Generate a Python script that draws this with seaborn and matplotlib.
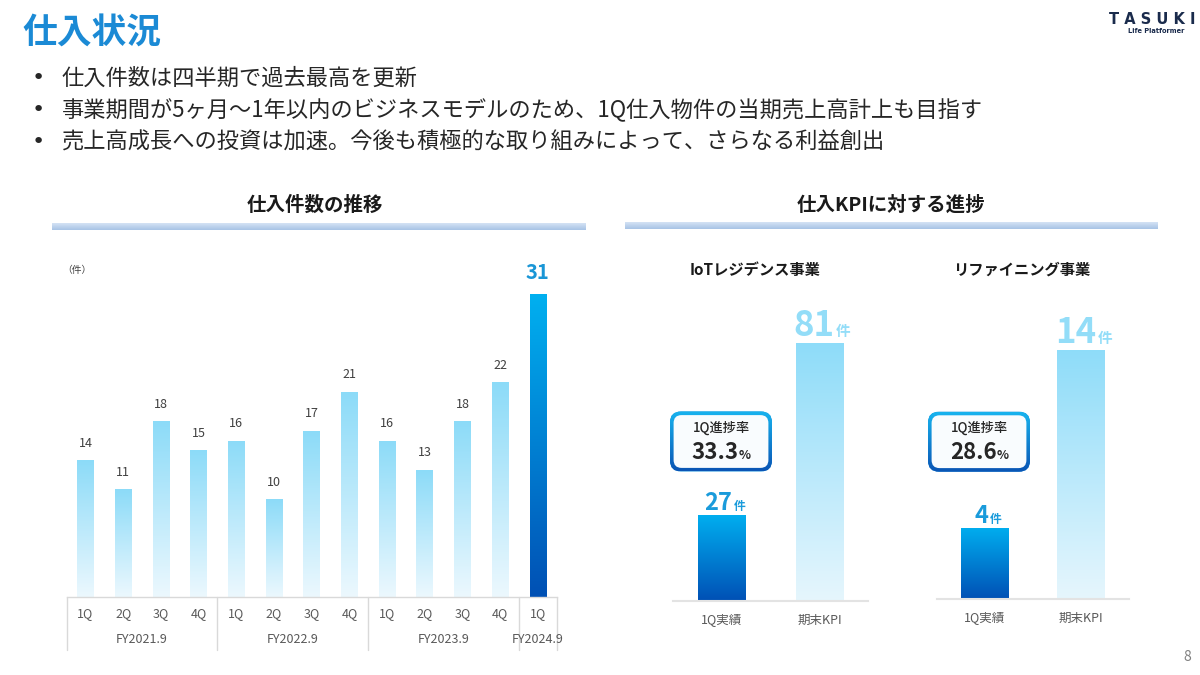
import numpy as np
import pandas as pd
import matplotlib
matplotlib.use("Agg")
import matplotlib.pyplot as plt
import seaborn as sns
from matplotlib.colors import LinearSegmentedColormap
from matplotlib.patches import FancyBboxPatch
from matplotlib.offsetbox import TextArea, HPacker, AnnotationBbox
from matplotlib.transforms import blended_transform_factory

# ---------------- data ----------------
quarters = ["1Q", "2Q", "3Q", "4Q", "1Q", "2Q", "3Q", "4Q", "1Q", "2Q", "3Q", "4Q", "1Q"]
fiscal_years = ["FY2021.9"] * 4 + ["FY2022.9"] * 4 + ["FY2023.9"] * 4 + ["FY2024.9"]
counts = [14, 11, 18, 15, 16, 10, 17, 21, 16, 13, 18, 22, 31]

kpi_categories = ["1Q実績", "期末KPI"]
iot_values = [27, 81]
refining_values = [4, 14]
progress_rates = [33.3, 28.6]
business_titles = ["IoTレジデンス事業", "リファイニング事業"]

page_title = "仕入状況"
bullets = [
    "仕入件数は四半期で過去最高を更新",
    "事業期間が5ヶ月〜1年以内のビジネスモデルのため、1Q仕入物件の当期売上高計上も目指す",
    "売上高成長への投資は加速。今後も積極的な取り組みによって、さらなる利益創出",
]
left_header = "仕入件数の推移"
right_header = "仕入KPIに対する進捗"

# ---------------- style ----------------
sns.set_theme(style="white")
plt.rcParams["font.family"] = ["Noto Sans CJK JP", "DejaVu Sans"]

W, H = 1200, 675
PT = 0.72  # pixels -> points at dpi 100
fig = plt.figure(figsize=(12, 6.75), dpi=100)
fig.patch.set_facecolor("white")

LIGHT_TOP, LIGHT_BOT = "#8CDBF8", "#ECF8FE"
DARK_TOP, DARK_BOT = "#00B0F0", "#0050B4"
TEXT = "#262626"
GRID = "#D9D9D9"


def px_axes(x0, y_top, x1, y_bot):
    return fig.add_axes([x0 / W, 1 - y_bot / H, (x1 - x0) / W, (y_bot - y_top) / H])


def gradient_patch(ax, patch, top, bottom, zorder=None):
    x, y = patch.get_x(), patch.get_y()
    w, h = patch.get_width(), patch.get_height()
    cmap = LinearSegmentedColormap.from_list("g", [bottom, top])
    grad = np.linspace(0, 1, 256).reshape(-1, 1)
    im = ax.imshow(grad, extent=[x, x + w, y, y + h], origin="lower", aspect="auto",
                   cmap=cmap, zorder=(patch.get_zorder() + 0.1) if zorder is None else zorder)
    im.set_clip_path(patch)
    patch.set_edgecolor("none")
    return im


# ---------------- left chart ----------------
ax = px_axes(66.7, 274.8, 556.7, 596.7)
df = pd.DataFrame({"period": [f"{fy} {q}" for fy, q in zip(fiscal_years, quarters)],
                   "count": counts})
sns.barplot(data=df, x="period", y="count", color=LIGHT_TOP, saturation=1,
            width=0.44, ax=ax, errorbar=None)
bars = list(ax.containers[0])
n = len(counts)
for i, p in enumerate(bars):
    if i == n - 1:
        gradient_patch(ax, p, DARK_TOP, DARK_BOT)
    else:
        gradient_patch(ax, p, LIGHT_TOP, LIGHT_BOT)
ax.set_xlim(-0.5, n - 0.5)
ax.set_ylim(0, 33)
ax.set_facecolor("none")
ax.set_xlabel("")
ax.set_ylabel("")
ax.set_yticks([])
for s in ["top", "right", "left"]:
    ax.spines[s].set_visible(False)
ax.spines["bottom"].set_color(GRID)
ax.spines["bottom"].set_linewidth(1)
ax.set_xticks(range(n))
ax.set_xticklabels(quarters, fontsize=9, color="#595959")
ax.tick_params(axis="x", length=0, pad=17.3 * PT)
for lab in ax.get_xticklabels():
    lab.set_va("center")

for i, (p, v) in enumerate(zip(bars, counts)):
    cx = p.get_x() + p.get_width() / 2
    if i == n - 1:
        ax.annotate(str(v), xy=(cx, v), xytext=(0, 22 * PT), textcoords="offset points",
                    ha="center", va="center", fontsize=14.5, fontweight="bold", color="#1A96D6",
                    annotation_clip=False)
    else:
        ax.annotate(str(v), xy=(cx, v), xytext=(0, 17 * PT), textcoords="offset points",
                    ha="center", va="center", fontsize=9, color="#404040",
                    annotation_clip=False)

# category table below the axis
trans = blended_transform_factory(ax.transData, ax.transAxes)
axes_h_px = 596.7 - 274.8
depth = 53 / axes_h_px
bounds = [-0.5] + [i - 0.5 for i in range(1, n) if fiscal_years[i] != fiscal_years[i - 1]] + [n - 0.5]
for xb in bounds:
    ax.plot([xb, xb], [0, -depth], transform=trans, color=GRID, lw=1, clip_on=False)
seen = []
for fy in fiscal_years:
    if fy not in seen:
        seen.append(fy)
for fy in seen:
    idx = [i for i, f in enumerate(fiscal_years) if f == fy]
    ax.annotate(fy, xy=(np.mean(idx), 0), xytext=(0, -42.3 * PT), textcoords="offset points",
                ha="center", va="center", fontsize=9, color="#595959", annotation_clip=False)


# ---------------- KPI charts ----------------
def kpi_chart(x0, x1, baseline, ytop, ymax, values):
    a = px_axes(x0, ytop, x1, baseline)
    sns.barplot(x=kpi_categories, y=values, color=LIGHT_TOP, saturation=1, width=0.49,
                ax=a, errorbar=None)
    bs = list(a.containers[0])
    gradient_patch(a, bs[0], "#00AEEF", "#0050B5")
    gradient_patch(a, bs[1], "#8EDCF9", "#E6F6FD")
    a.set_xlim(-0.5, 1.5)
    a.set_ylim(0, ymax)
    a.set_facecolor("none")
    a.set_xlabel("")
    a.set_ylabel("")
    a.set_yticks([])
    for s in ["top", "right", "left"]:
        a.spines[s].set_visible(False)
    a.spines["bottom"].set_color("#E3E3E3")
    a.spines["bottom"].set_linewidth(1.5)
    a.set_xticks([0, 1])
    a.set_xticklabels(kpi_categories, fontsize=9, color="#595959")
    a.tick_params(axis="x", length=0, pad=19 * PT)
    for lab in a.get_xticklabels():
        lab.set_va("center")
    styles = [("#1A9BDB", 17, 8.5), ("#93DDF8", 25, 10.5)]
    for i, (p, v) in enumerate(zip(bs, values)):
        col, big, small = styles[i]
        pack = HPacker(children=[
            TextArea(str(v), textprops=dict(fontsize=big, fontweight="bold", color=col)),
            TextArea("件", textprops=dict(fontsize=small, fontweight="bold", color=col)),
        ], align="baseline", pad=0, sep=1)
        ab = AnnotationBbox(pack, (p.get_x() + p.get_width() / 2, v), xycoords="data",
                            xybox=(2, 0), boxcoords="offset points", box_alignment=(0.5, 0),
                            frameon=False, pad=0, annotation_clip=False)
        a.add_artist(ab)
    return a


kpi_chart(673.25, 868.25, 601, 290, 97.8, iot_values)
kpi_chart(937, 1129, 599, 290, 17.37, refining_values)

# ---------------- overlay (slide decorations) ----------------
ov = fig.add_axes([0, 0, 1, 1], zorder=10)
ov.patch.set_alpha(0)
ov.axis("off")

ov.text(22, 33, page_title, fontsize=25, fontweight="bold", color="#1B8AD5", ha="left", va="center")
for i, t in enumerate(bullets):
    y = 78 + 32 * i
    ov.text(38, y, "•", fontsize=16, ha="center", va="center", color=TEXT, family="DejaVu Sans")
    ov.text(62, y, t, fontsize=16, ha="left", va="center", color=TEXT)

ov.text(315, 205, left_header, fontsize=14, fontweight="bold", ha="center", va="center", color="#1A1A1A")
ov.text(891, 205, right_header, fontsize=14, fontweight="bold", ha="center", va="center", color="#1A1A1A")

band_cmap = LinearSegmentedColormap.from_list("band", ["#D5E3F4", "#A7C3E6"])
gv = np.linspace(0, 1, 64).reshape(-1, 1)
for (bx0, bx1, by0, by1) in [(52, 586, 223, 230), (625, 1158, 222, 229)]:
    ov.imshow(gv, extent=[bx0, bx1, by1, by0], origin="upper", aspect="auto", cmap=band_cmap)

ov.text(755, 270, business_titles[0], fontsize=11, fontweight="bold", ha="center", va="center", color="#1A1A1A")
ov.text(1022, 270, business_titles[1], fontsize=11, fontweight="bold", ha="center", va="center", color="#1A1A1A")

ov.text(77, 270, "（件）", fontsize=7, ha="center", va="center", color="#404040")

# progress boxes
border_cmap = LinearSegmentedColormap.from_list("border", ["#18B3EE", "#0A55B5"])
for (cx, cy), rate in zip([(721, 441.5), (979, 441.7)], progress_rates):
    bw, bh = 102, 60
    outer = FancyBboxPatch((cx - bw / 2, cy - bh / 2), bw, bh,
                           boxstyle="round,pad=0,rounding_size=11", facecolor="#1A8FDA",
                           edgecolor="none", zorder=2)
    ov.add_patch(outer)
    im = ov.imshow(gv, extent=[cx - bw / 2, cx + bw / 2, cy + bh / 2, cy - bh / 2], origin="upper",
                   aspect="auto", cmap=border_cmap, zorder=2.1)
    im.set_clip_path(outer)
    t = 3.6
    inner = FancyBboxPatch((cx - bw / 2 + t, cy - bh / 2 + t), bw - 2 * t, bh - 2 * t,
                           boxstyle="round,pad=0,rounding_size=8", facecolor="#F9FCFE",
                           edgecolor="none", zorder=2.2)
    ov.add_patch(inner)
    ov.text(cx, cy - 13.5, "1Q進捗率", fontsize=9.5, fontweight="medium", ha="center", va="center",
            color=TEXT, zorder=3)
    pack = HPacker(children=[
        TextArea(f"{rate:.1f}", textprops=dict(fontsize=16, fontweight="bold", color=TEXT)),
        TextArea("%", textprops=dict(fontsize=9, fontweight="bold", color=TEXT)),
    ], align="baseline", pad=0, sep=0)
    ab = AnnotationBbox(pack, (cx, cy + 11), xycoords="data", box_alignment=(0.5, 0.5),
                        frameon=False, pad=0, zorder=3)
    ov.add_artist(ab)

# logo and page number
ov.text(1152, 19, "T A S U K I", fontsize=10.5, fontweight="bold", ha="center", va="center",
        color="#1A2B4C", family="DejaVu Sans")
ov.text(1156, 31, "Life Platformer", fontsize=4.8, fontweight="bold", ha="center", va="center",
        color="#1A2B4C", family="DejaVu Sans")
ov.text(1187, 657, "8", fontsize=10, ha="center", va="center", color="#808080")

ov.set_xlim(0, W)
ov.set_ylim(H, 0)

fig.savefig("out.png", dpi=100, facecolor="white")
